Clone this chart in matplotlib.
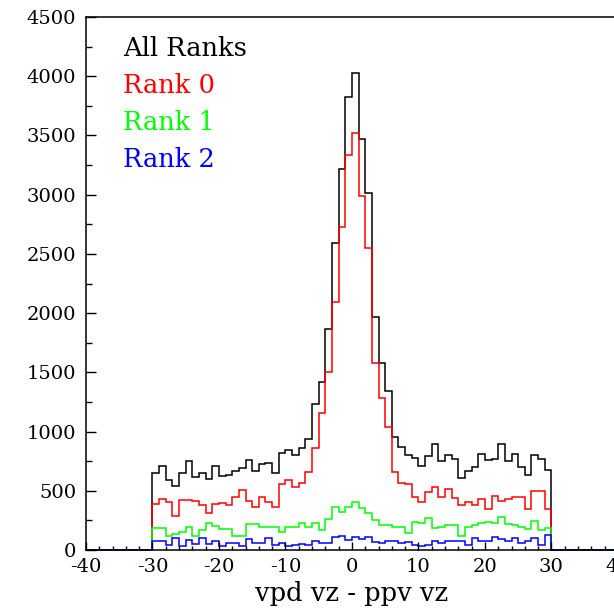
"""
vpd vz - ppv vz for each vertex rank (ROOT-style step histograms)
"""
import numpy as np
import matplotlib
matplotlib.use('Agg')
from matplotlib import pyplot as plt
from matplotlib.ticker import MultipleLocator

plt.rcParams['font.family'] = 'DejaVu Serif'
plt.rcParams['axes.unicode_minus'] = False

# bin edges of the filled range, 1 cm bins from -30 to 30
bin_lo = -30
bin_hi = 30

all_ranks = [653, 709, 591, 540, 647, 751, 619, 653, 599, 712,
             622, 633, 670, 689, 760, 670, 726, 731, 653, 822,
             844, 802, 864, 934, 1230, 1421, 1863, 2589, 3214, 3828,
             4030, 3473, 3011, 1970, 1582, 1342, 957, 872, 802, 780,
             712, 794, 892, 754, 802, 766, 611, 667, 704, 808,
             760, 766, 892, 754, 808, 704, 633, 802, 766, 675]
rank0 = [386, 431, 408, 287, 425, 425, 411, 380, 310, 389,
         400, 380, 450, 509, 414, 360, 445, 408, 360, 557,
         591, 529, 563, 659, 864, 1160, 1506, 2091, 2730, 3335,
         3518, 2992, 2547, 1576, 1286, 1041, 659, 569, 557, 445,
         408, 493, 535, 445, 515, 436, 380, 408, 380, 428,
         343, 456, 417, 428, 450, 444, 343, 501, 501, 349]
rank1 = [183, 189, 118, 132, 149, 197, 115, 169, 225, 205,
         177, 177, 118, 118, 217, 217, 191, 191, 191, 155,
         191, 197, 225, 191, 225, 169, 259, 360, 324, 360,
         408, 358, 310, 253, 211, 211, 197, 197, 146, 239,
         225, 267, 183, 191, 211, 211, 118, 197, 211, 225,
         239, 225, 276, 217, 211, 191, 175, 248, 169, 189]
rank2 = [76, 76, 42, 98, 37, 84, 51, 98, 51, 76,
         37, 56, 56, 37, 90, 62, 62, 98, 42, 56,
         37, 42, 51, 42, 76, 56, 56, 107, 118, 84,
         113, 96, 113, 70, 62, 73, 76, 62, 70, 42,
         34, 42, 76, 62, 73, 73, 76, 42, 98, 76,
         76, 113, 90, 76, 98, 56, 79, 98, 42, 124]

labels = ['All Ranks', 'Rank 0', 'Rank 1', 'Rank 2']
colors = ['black', '#ff0000', '#00ff00', '#0000ff']

# histogram axis runs -40..40, empty outside the filled range
edges = np.arange(-40, 41)
def padded(vals):
    h = np.zeros(len(edges) - 1)
    h[bin_lo + 40:bin_hi + 40] = vals
    return h

fig = plt.figure(figsize=(6.14, 6.11), dpi=100)
ax = fig.add_axes([0.140, 0.0998, 0.8664, 0.8724])

for vals, c in zip([all_ranks, rank0, rank1, rank2], colors):
    ax.stairs(padded(vals), edges, color=c, lw=1.1, baseline=0, clip_on=False)

ax.set_xlim(-40, 40)
ax.set_ylim(0, 4500)
ax.xaxis.set_major_locator(MultipleLocator(10))
ax.xaxis.set_minor_locator(MultipleLocator(2))
ax.yaxis.set_major_locator(MultipleLocator(500))
ax.yaxis.set_minor_locator(MultipleLocator(250))
ax.tick_params(axis='x', which='major', direction='in', length=6, width=1, pad=6, labelsize=14)
ax.tick_params(axis='x', which='minor', direction='in', length=3, width=1)
ax.tick_params(axis='y', which='major', direction='in', length=7.5, width=1, pad=7, labelsize=14)
ax.tick_params(axis='y', which='minor', direction='in', length=4, width=1)
for s in ax.spines.values():
    s.set_linewidth(1.1)

ax.set_xlabel('vpd vz - ppv vz', fontsize=18.5, labelpad=3)

y0 = 0.927
for i, (lab, c) in enumerate(zip(labels, colors)):
    ax.text(0.069, y0 - i * 0.0695, lab, color=c, fontsize=18.5,
            transform=ax.transAxes, va='baseline', ha='left')

fig.savefig('out.png', dpi=100, facecolor='white')
